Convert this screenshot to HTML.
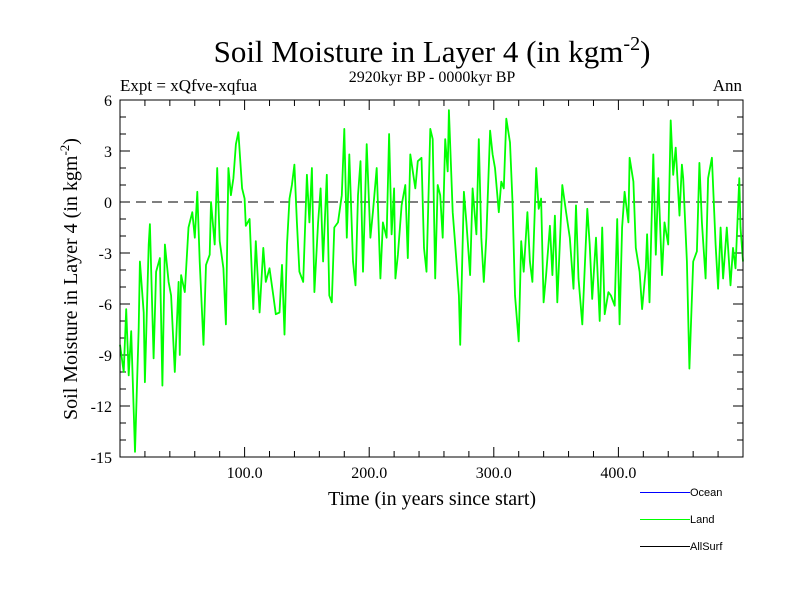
<!DOCTYPE html>
<html><head><meta charset="utf-8"><style>
body{margin:0;background:#fff}
svg{display:block;font-family:"Liberation Serif",serif}
</style></head><body>
<svg id="chart" width="800" height="600" xmlns="http://www.w3.org/2000/svg">
<text x="432" y="62" font-size="31" text-anchor="middle">Soil Moisture in Layer 4 (in kgm<tspan dy="-12" font-size="20">-2</tspan><tspan dy="12">)</tspan></text>
<text x="432" y="82" font-size="16" text-anchor="middle">2920kyr BP - 0000kyr BP</text>
<text x="120" y="91" font-size="17">Expt = xQfve-xqfua</text>
<text x="742" y="91" font-size="17" text-anchor="end">Ann</text>
<text transform="translate(77,279) rotate(-90)" font-size="20" text-anchor="middle">Soil Moisture in Layer 4 (in kgm<tspan dy="-8" font-size="13">-2</tspan><tspan dy="8">)</tspan></text>
<text x="432" y="505" font-size="20" text-anchor="middle">Time (in years since start)</text>
<g id="axes"></g>
<g id="series"></g>
<rect x="120" y="100" width="623" height="357" fill="none" stroke="#000" stroke-width="1"/>
<g font-family="Liberation Sans, sans-serif" font-size="11">
<rect x="640" y="492" width="50" height="1" fill="#0000ff"/>
<text x="690" y="496">Ocean</text>
<rect x="640" y="519" width="50" height="1" fill="#00ff00"/>
<text x="690" y="523">Land</text>
<rect x="640" y="546" width="50" height="1" fill="#000000"/>
<text x="690" y="550">AllSurf</text>
</g>
</svg>
<script>
const years=[0,3,5,7,9,12,15,16,19,20,23,24,27,29,32,34,36,39,41,44,47,48,49,52,55,58,60,62,64,67,69,72,73,76,78,80,83,85,87,89,91,93,95,98,100,101,104,107,109,112,115,117,120,123,125,128,130,132,134,136,138,140,142,144,147,150,152,154,156,159,161,163,166,168,170,172,175,178,180,182,184,187,189,191,193,195,198,201,203,206,209,211,214,216,218,220,221,223,226,229,231,233,237,239,242,244,246,249,251,253,255,257,259,261,263,264,267,269,272,273,276,278,281,283,286,288,290,292,294,297,299,301,304,306,308,310,313,315,317,320,322,324,327,329,331,334,336,338,340,342,345,347,349,351,353,355,358,361,364,366,368,371,375,377,379,382,385,387,389,392,394,397,399,401,403,405,408,409,412,414,417,419,422,423,425,428,430,432,435,437,440,442,444,446,449,451,452,455,457,460,463,465,467,470,472,475,478,480,482,484,487,490,492,494,497,498,500];
const landValues=[-8.4,-10,-6.3,-10.2,-7.6,-14.7,-7.4,-3.5,-6.5,-10.6,-2.5,-1.3,-9.2,-4.1,-3.3,-10.8,-2.5,-4.7,-5.5,-10,-4.7,-9,-4.3,-5.3,-1.5,-0.6,-2.1,0.6,-3.5,-8.4,-3.7,-3.1,0,-2.5,2,-2.3,-3.9,-7.2,2,0.4,1.4,3.4,4.1,0.8,0.2,-1.4,-1,-6.3,-2.3,-6.5,-2.7,-4.7,-3.9,-5.5,-6.6,-6.5,-3.7,-7.8,-2.5,0.2,1,2.2,-1.2,-4.1,-4.7,1.6,-1.2,2,-5.3,-1.2,0.8,-3.5,1.6,-5.5,-5.9,-1.5,-1.2,0.4,4.3,-2.1,2.8,-3.5,-4.9,0.4,2.4,-4.1,3.4,-2.1,-0.6,2,-4.5,-1.2,-2.1,4,-1.9,0.8,-4.5,-3.1,-0.2,1,-3.3,2.8,0.8,2.4,2.6,-2.7,-4.1,4.3,3.7,-4.5,1,0.4,-2.1,3.7,1.8,5.4,-0.6,-2.5,-5.5,-8.4,0.6,-1.2,-4.3,0.8,-1.9,3.7,-2.1,-4.7,-2.1,4.2,2.8,2,-0.6,1.2,0.8,4.9,3.5,0,-5.5,-8.2,-2.3,-4.1,-0.6,-3.5,-4.7,2,-0.4,0.2,-5.9,-4.3,-1.4,-4.3,-0.8,-5.9,-2.5,1,-0.6,-2.1,-5.1,-0.2,-4.5,-7.2,-0.4,-2.5,-5.7,-2.1,-7,-1.5,-6.6,-5.3,-5.5,-6.1,-1,-7.2,-1.5,0.6,-1.2,2.6,1.2,-2.7,-4.1,-6.3,-3.9,-1.9,-5.9,2.8,-3.1,1.4,-4.3,-1.2,-2.5,4.8,1.6,3.2,-0.8,2.2,1.4,-3.5,-9.8,-3.5,-2.9,2.3,-1.2,-4.5,1.4,2.6,-2.5,-5.1,-1.5,-4.5,-1.5,-4.9,-2.7,-3.9,1.4,-1.5,-3.5];
const yTickValues=[6,3,0,-3,-6,-9,-12,-15];
const xTickLabels=["100.0","200.0","300.0","400.0"];
const xTickValues=[100,200,300,400];

const L=120,R=743,T=100,B=457,X0=0,X1=500,Y0=-15,Y1=6;
const xs=v=>L+(v-X0)/(X1-X0)*(R-L);
const ys=v=>B-(v-Y0)/(Y1-Y0)*(B-T);
const NS="http://www.w3.org/2000/svg";
const axes=document.getElementById('axes');
function mk(tag,attrs,parent){const e=document.createElementNS(NS,tag);for(const k in attrs)e.setAttribute(k,attrs[k]);parent.appendChild(e);return e;}

for(let v=Y0;v<=Y1;v++){
  const major=(v%3===0);const len=major?10:6;const y=ys(v);
  const t1=mk('line',{x1:L,y1:y,x2:L+len,y2:y,stroke:'#000'},axes);
  
  
  const t2=mk('line',{x1:R-len,y1:y,x2:R,y2:y,stroke:'#000'},axes);
  
  
}
yTickValues.forEach(v=>{
  const t=mk('text',{x:L-8,y:ys(v)+6,'font-size':16,'text-anchor':'end'},axes);
  t.textContent=String(v);
  
  
});
for(let v=20;v<X1;v+=20){
  const major=(v%100===0);const len=major?10:6;const x=xs(v);
  const a=mk('line',{x1:x,y1:B,x2:x,y2:B-len,stroke:'#000'},axes);
  
  
  const b=mk('line',{x1:x,y1:T,x2:x,y2:T+len,stroke:'#000'},axes);
  
  
}
xTickValues.forEach((v,i)=>{
  const t=mk('text',{x:xs(v),y:B+21,'font-size':16,'text-anchor':'middle'},axes);
  t.textContent=xTickLabels[i];
  
  
});
const zero=mk('line',{x1:L,y1:ys(0),x2:R,y2:ys(0),stroke:'#555','stroke-width':1.5,'stroke-dasharray':'10,6'},axes);



const series=document.getElementById('series');
const d=years.map((t,i)=>(i?'L':'M')+xs(t).toFixed(1)+','+ys(landValues[i]).toFixed(1)).join(' ');
const p=mk('path',{d:d,fill:'none',stroke:'#00ff00','stroke-width':1.8,'stroke-linejoin':'round'},series);


</script>
</body></html>
